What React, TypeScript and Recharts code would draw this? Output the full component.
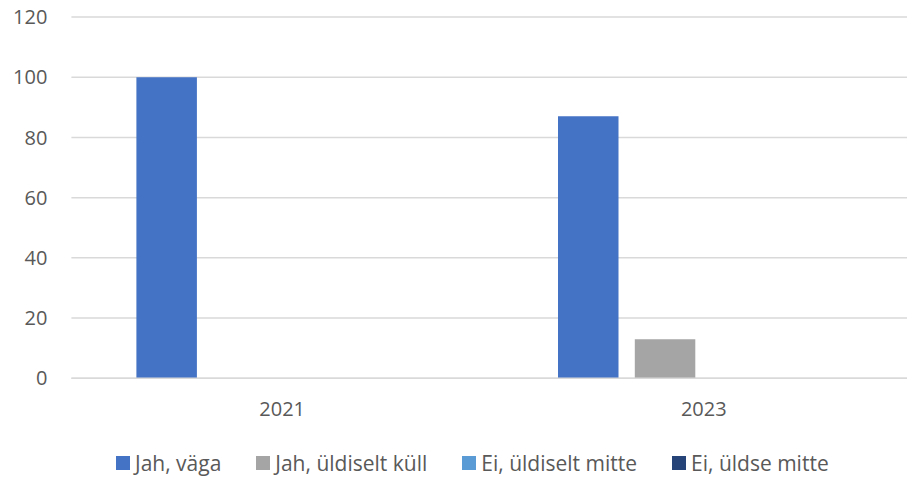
import { BarChart, Bar, XAxis, YAxis, CartesianGrid, Legend } from "recharts";

document.body.style.margin = "0";
document.body.style.overflow = "hidden";

const years = ["2021", "2023"];
const jahVaga = [100, 87];
const jahUldiseltKull = [0, 13];
const eiUldiseltMitte = [0, 0];
const eiUldseMitte = [0, 0];
const yTicks = [0, 20, 40, 60, 80, 100, 120];

const series = [
  { key: "jahVaga", name: "Jah, väga", color: "#4472c4" },
  { key: "jahUldiseltKull", name: "Jah, üldiselt küll", color: "#a5a5a5" },
  { key: "eiUldiseltMitte", name: "Ei, üldiselt mitte", color: "#5b9bd5" },
  { key: "eiUldseMitte", name: "Ei, üldse mitte", color: "#264478" },
];

const data = years.map((year, i) => ({
  year,
  jahVaga: jahVaga[i],
  jahUldiseltKull: jahUldiseltKull[i],
  eiUldiseltMitte: eiUldiseltMitte[i],
  eiUldseMitte: eiUldseMitte[i],
}));

const FONT = "'Open Sans', sans-serif";
const TEXT = "#595959";
const GRID = "#d9d9d9";

const LegendRow = () => (
  <div
    style={{
      display: "flex",
      alignItems: "center",
      height: 24,
      paddingLeft: 116,
      fontFamily: FONT,
      fontSize: 21,
      color: TEXT,
      whiteSpace: "nowrap",
    }}
  >
    {series.map((s) => (
      <div
        key={s.key}
        style={{ display: "flex", alignItems: "center", marginRight: 35 }}
      >
        <span
          style={{
            width: 14,
            height: 14,
            background: s.color,
            marginRight: 5,
            display: "inline-block",
          }}
        />
        <span>{s.name}</span>
      </div>
    ))}
  </div>
);

export default function App() {
  return (
    <div style={{ width: 907, height: 477, overflow: "hidden" }}>
      <BarChart
        width={916}
        height={477}
        data={data}
        margin={{ top: 17, right: 1.4, bottom: 2, left: 0 }}
        barSize={60.5}
        barGap={16.3}
      >
        <CartesianGrid vertical={false} stroke={GRID} strokeWidth={1.5} />
        <XAxis
          dataKey="year"
          height={72.7}
          axisLine={{ stroke: GRID, strokeWidth: 1.5 }}
          tickLine={false}
          tickSize={0}
          tickMargin={23}
          tick={{ fill: TEXT, fontSize: 20, fontFamily: FONT }}
        />
        <YAxis
          width={71.4}
          domain={[0, 120]}
          ticks={yTicks}
          axisLine={false}
          tickLine={false}
          tickSize={0}
          tickMargin={24}
          tick={{ fill: TEXT, fontSize: 20, fontFamily: FONT }}
        />
        <Legend verticalAlign="bottom" content={<LegendRow />} />
        {series.map((s) => (
          <Bar
            key={s.key}
            dataKey={s.key}
            name={s.name}
            fill={s.color}
            isAnimationActive={false}
          />
        ))}
      </BarChart>
    </div>
  );
}
